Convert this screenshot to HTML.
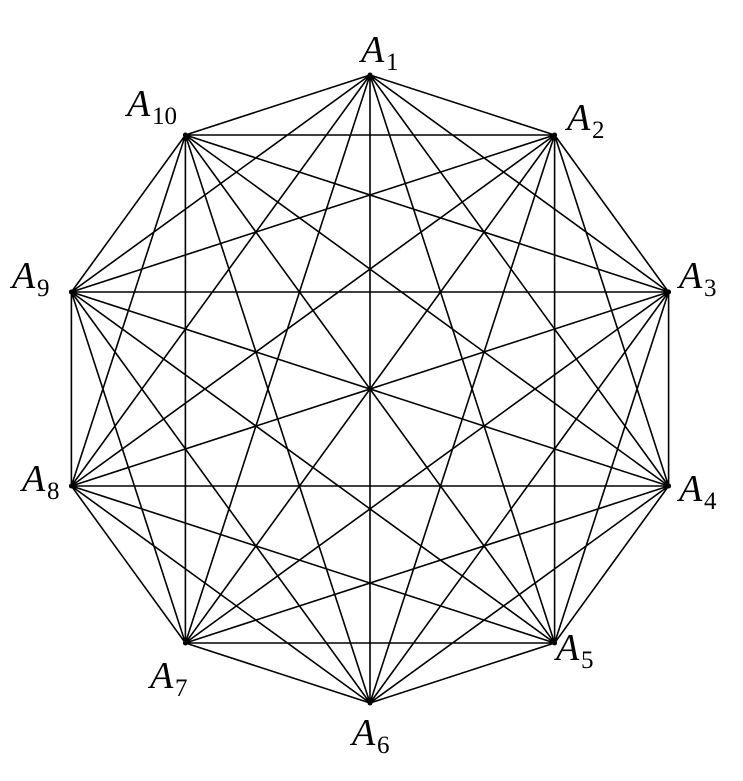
<!DOCTYPE html>
<html><head><meta charset="utf-8"><style>
html,body{margin:0;padding:0;background:#fff;}
svg{display:block;}
text{font-family:"Liberation Serif",serif;fill:#000;}
.a{font-style:italic;font-size:38px;}
.s{font-size:25px;}
</style></head><body>
<svg width="743" height="781" viewBox="0 0 743 781" xmlns="http://www.w3.org/2000/svg">
<path fill="none" stroke="#000" stroke-width="1.6" stroke-linecap="round" d="
M370,75 L554.6,135 M370,75 L668.6,292 M370,75 L668.6,486 M370,75 L554.6,643 M370,75 L370,703 M370,75 L185.4,643 M370,75 L71.4,486 M370,75 L71.4,292 M370,75 L185.4,135
M554.6,135 L668.6,292 M554.6,135 L668.6,486 M554.6,135 L554.6,643 M554.6,135 L370,703 M554.6,135 L185.4,643 M554.6,135 L71.4,486 M554.6,135 L71.4,292 M554.6,135 L185.4,135
M668.6,292 L668.6,486 M668.6,292 L554.6,643 M668.6,292 L370,703 M668.6,292 L185.4,643 M668.6,292 L71.4,486 M668.6,292 L71.4,292 M668.6,292 L185.4,135
M668.6,486 L554.6,643 M668.6,486 L370,703 M668.6,486 L185.4,643 M668.6,486 L71.4,486 M668.6,486 L71.4,292 M668.6,486 L185.4,135
M554.6,643 L370,703 M554.6,643 L185.4,643 M554.6,643 L71.4,486 M554.6,643 L71.4,292 M554.6,643 L185.4,135
M370,703 L185.4,643 M370,703 L71.4,486 M370,703 L71.4,292 M370,703 L185.4,135
M185.4,643 L71.4,486 M185.4,643 L71.4,292 M185.4,643 L185.4,135
M71.4,486 L71.4,292 M71.4,486 L185.4,135
M71.4,292 L185.4,135
"/>
<g fill="#000">
<circle cx="370" cy="75" r="2.5"/><circle cx="554.6" cy="135" r="2.5"/><circle cx="668.6" cy="292" r="2.5"/><circle cx="668.6" cy="486" r="2.5"/><circle cx="554.6" cy="643" r="2.5"/><circle cx="370" cy="703" r="2.5"/><circle cx="185.4" cy="643" r="2.5"/><circle cx="71.4" cy="486" r="2.5"/><circle cx="71.4" cy="292" r="2.5"/><circle cx="185.4" cy="135" r="2.5"/>
</g>
<text x="361" y="62" class="a">A</text><text x="386" y="70" class="s">1</text>
<text x="127" y="116" class="a">A</text><text x="152" y="124" class="s">10</text>
<text x="567" y="130" class="a">A</text><text x="592" y="138" class="s">2</text>
<text x="12" y="288" class="a">A</text><text x="37" y="296" class="s">9</text>
<text x="679" y="288" class="a">A</text><text x="704" y="296" class="s">3</text>
<text x="22" y="491" class="a">A</text><text x="47" y="499" class="s">8</text>
<text x="679" y="501" class="a">A</text><text x="704" y="509" class="s">4</text>
<text x="150" y="688" class="a">A</text><text x="175" y="696" class="s">7</text>
<text x="556" y="660" class="a">A</text><text x="581" y="668" class="s">5</text>
<text x="352" y="745" class="a">A</text><text x="377" y="753" class="s">6</text>
</svg>
</body></html>
